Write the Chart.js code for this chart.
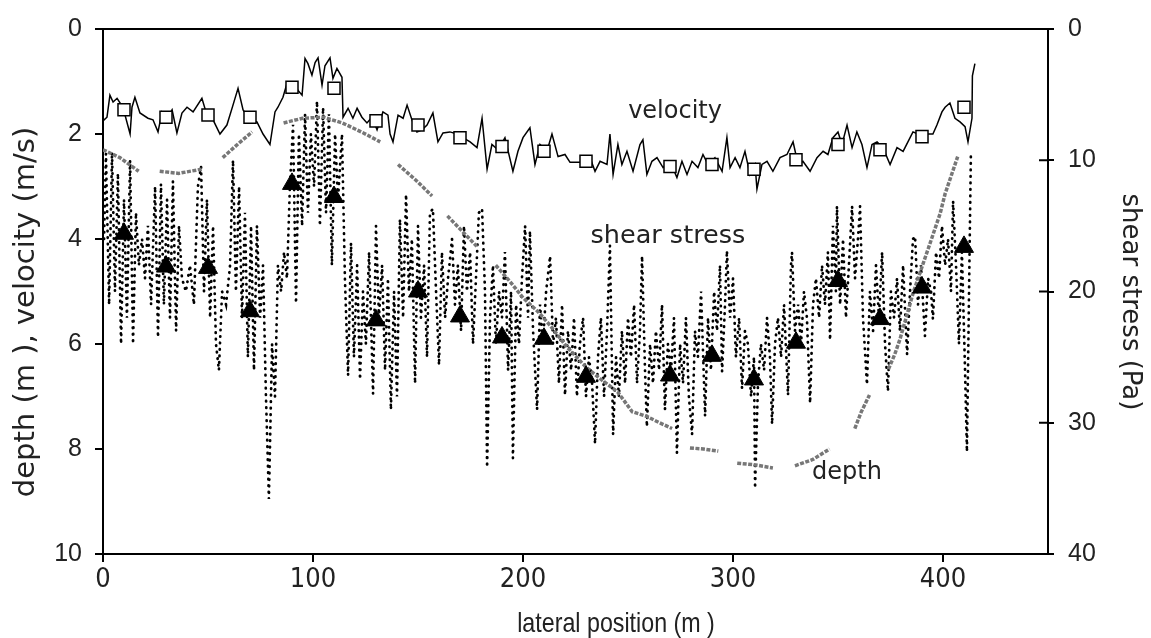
<!DOCTYPE html>
<html><head><meta charset="utf-8">
<script src="https://cdn.jsdelivr.net/npm/chart.js@4/dist/chart.umd.min.js"></script>
<style>html,body{margin:0;padding:0;background:#fff}#wrap{width:1151px;height:638px;position:relative}</style>
</head><body><div id="wrap"><canvas id="c"></canvas></div>
<script>
// lateral position (m) of velocity samples
const velX=[0,1.9,3.3,4.8,6.7,9.5,12.9,13.8,15.2,17.6,
21.4,23.8,26.2,28.1,30.5,32.9,35.2,37.6,40,42.9,
47.1,49.5,52.4,55.7,59,61.9,64.3,66.7,70,73.3,
76.2,79.5,81.9,83.3,85.7,87.6,90.5,92.9,94.8,96.2,
97.6,99.5,101,102.4,104.3,105.7,108.1,109.5,111.4,113.8,
114.3,116.7,119,121,123.3,125.7,128.1,130.5,133.3,135.7,
136.7,138.1,140.5,142.9,144.8,147.1,149.5,151.9,154.3,157.1,
159.5,161.9,165.2,168.6,171.4,174.8,178.1,180.5,182.9,185.2,
188.1,191.4,195.2,197.6,200,203.3,205.7,208.1,211.4,213.8,
216.7,220,222.4,227.1,231.9,234.3,236.7,240,241.4,242.9,
245.2,247.1,249.5,252.4,255.7,257.1,259,261.4,263.8,266.7,
270,273.3,275.7,278.1,280.5,283.3,285.7,288.1,291.4,294.8,
297.1,298.6,301,303.3,305.7,308.1,310.5,311.4,313.8,316.2,
319,322.4,325.7,328.6,331,333.3,336.7,340,342.9,345.2,
347.6,350,351.9,354.3,356.7,359,361.4,363.8,366.2,368.6,
371.4,374.8,378.1,381,383.3,385.7,388.1,390.5,392.9,395.2,
397.1,399.5,401,403.3,405.7,408.1,410.5,411.9,413.8,414,415.2];
// velocity (m/s)
const velY=[1.75,1.68,1.26,1.39,1.32,1.49,2.0,1.49,1.3,1.6,
1.7,1.73,1.96,1.58,1.7,1.54,1.98,1.6,1.49,1.58,
1.32,1.64,1.73,2.0,1.83,1.45,1.13,1.54,1.73,1.77,
2.0,2.2,1.58,1.49,1.3,1.04,1.04,1.17,1.26,0.56,
0.66,0.88,0.64,0.55,1.07,0.7,0.55,0.94,0.75,0.92,
1.68,1.51,1.7,1.51,1.68,1.79,1.68,1.92,1.58,1.64,
2.0,2.15,1.64,1.7,1.45,1.73,1.96,1.92,1.83,1.6,
2.15,1.98,1.96,2.0,2.07,2.15,2.26,1.7,2.67,2.2,
2.3,2.07,2.71,2.33,2.07,1.88,2.58,2.2,2.33,2.0,
2.43,2.39,2.54,2.54,2.45,2.71,2.52,2.58,2.0,2.77,
2.2,2.58,2.33,2.71,2.2,2.11,2.77,2.52,2.45,2.64,
2.52,2.83,2.52,2.77,2.52,2.64,2.39,2.58,2.45,2.71,
2.07,2.64,2.45,2.64,2.33,2.77,2.58,3.05,2.58,2.52,
2.71,2.45,2.39,2.15,2.58,2.52,2.71,2.45,2.33,2.39,
2.07,1.96,2.2,1.83,2.26,1.96,2.2,2.64,2.2,2.15,
2.26,2.58,2.26,2.33,2.15,1.96,2.0,2.07,2.0,2.0,
1.83,1.58,1.49,1.41,1.7,1.77,1.86,2.15,1.7,0.89,0.66];

// lateral position (m) of shear stress samples
const shearX=[0.5,1.4,2.9,4.3,5.7,7.1,8.6,10,11.4,12.9,
14.3,15.7,17.1,18.6,20,21.4,22.9,24.8,26.2,27.6,
29,30.5,31.9,33.3,34.8,36.2,37.6,39.5,41.4,43.3,
45.2,46.7,48.1,49.5,51,52.4,53.8,55.2,56.7,58.6,
60.5,61.9,63.3,64.8,66.2,67.6,69,70.5,71.9,73.3,
74.8,76.2,77.6,79,80.5,81.9,83.3,84.8,86.2,87.6,
89,90.5,91.9,93.3,94.8,96.2,97.6,99,100.5,101.9,
103.3,104.8,106.2,107.6,109,110.5,111.9,113.8,115.2,116.7,
118.1,119.5,121,122.4,123.8,125.2,126.7,128.6,130,131.4,
132.9,134.3,135.7,137.1,138.6,140,141.4,142.9,144.3,145.7,
147.1,148.6,150,151.4,152.9,154.3,155.7,157.1,158.6,160,
161.4,162.9,164.3,166.2,167.6,169,170.5,171.9,173.3,174.8,
176.2,177.6,179,180.5,181.9,182.9,184.3,185.7,187.1,188.6,
190,191.4,192.9,194.3,195.2,196.7,198.1,199.5,201,202.4,
203.3,204.8,206.7,208.1,209.5,211,212.9,214.3,215.7,217.1,
218.6,220,221.4,222.9,224.3,225.7,227.1,228.6,230,231.4,
232.9,234.3,235.7,237.1,238.6,240,241.4,242.9,244.3,245.7,
247.1,248.6,250,251.4,252.9,254.3,255.7,256.7,258.1,259,
260.5,261.9,263.3,264.8,266.2,267.6,269,270.5,271.9,273.3,
274.8,276.2,277.6,279,280.5,281.9,283.3,284.8,286.7,288.1,
289.5,291,292.4,293.8,294.8,296.2,297.1,298.6,300,301.4,
302.9,304.3,305.7,307.1,308.6,310,310.5,311.9,313.3,314.8,
316.2,317.6,318.6,320,321.4,322.9,324.3,326.2,327.6,328.1,
329.5,331,332.4,333.8,335.2,336.7,338.1,339.5,341,342.4,
343.8,345.2,346.2,347.6,349,349.5,351,352.4,353.8,355.2,
356.7,358.1,359.5,360.5,361.9,363.8,365.2,366.7,368.1,369.5,
371,372.4,373.8,375.2,376.7,378.1,379.5,381,382.9,384.3,
385.7,386.7,388.1,389.5,391.4,392.9,394.3,395.2,396.7,398.1,
399.5,401,402.4,403.8,404.8,406.2,407.6,409,410.5,411.4,
412.4,413.3];
// shear stress (Pa)
const shearY=[16,9.5,21,9.4,20,11,24,13,22,10,
24,14,18,16,19,15,21,12,23.5,11.8,
21,13,22,11.6,23,15,19,20,18,21,
12,10.5,20,13,22,15,24,26,20,21,
18,10,20,12,22,14,25,15,26,15,
22,18,28,35.8,24,28,18,20,17,19,
12,7.3,20.9,8,15,6.5,14,8,12,5.5,
15,6,14,6.5,18,8,13,8,19,26.4,
16.3,25,18,26.7,20,24,17,27.8,15,22,
18,26,19,29,20,28,14.5,22,12.6,20,
16,27,15,22,18,25,14,13.7,20,25.6,
17,22,19,16,21,18,23,15,20,17,
24,19,14,13.7,20,33.4,22,18,24,20,
22,17,26,20,32.7,21,24,19,15,22,
15.4,23,29,21,24,20,17.3,24,22,27,
21,27.9,23,26,22,28,24,22,28,25,
27,31.6,25,22,28,23,16.5,30.9,25,28,
23,27,22,25,21,27,23,17.3,26,30.3,
24,27,23,26,21,29,24,26,22,32.3,
24,27,22,28,30.9,23,25,20,29.5,22,
26,20,23,18,26.1,21,16.9,22,19,25,
22,27.4,23,24,28,25,35,27,24,26,
22,25,30.1,24,22,25,21,27.9,18,17,
23,21,24,20,22,28.5,21,19,22,18,
21,17,23.7,15,20,13.5,21,16,22,18,
13.5,19,16,13.5,22,27.1,20,23,18,22,
17,24,27.6,20,22,19,23,18,24.8,20,
16,15.8,21,18,23.4,19,20,22.1,17,19,
15,18,16,20,13.1,18,24,17,26,32.2,
20,9.3];

// depth (m); null = gap in the line
const depthX=[0,8,17,22,27,36,47,52,57,64,71,78,86,95,105,114,124,132,136,140.5,149,156.7,160,164,171,178,182,
187,194,200,207,213,221,230,238,245,252,259,265,271,275,279.5,286,293,297,302,310,319,323,329.5,338,346,350,
358,361,365,369,374,377,379.5,386,393,398.6,401,407];
const depthY=[2.3,2.45,2.71,null,2.71,2.75,2.67,null,2.45,2.2,1.96,null,1.79,1.7,1.68,1.79,1.98,2.15,null,2.58,2.88,3.18,null,3.56,3.85,4.14,null,
4.5,4.82,5.12,5.38,5.65,6.06,6.44,6.7,6.91,7.29,7.38,7.5,7.61,null,7.98,8.0,8.04,null,8.27,8.3,8.36,null,8.32,8.2,8.0,null,
7.61,7.3,6.97,null,6.48,6.2,5.91,5.0,4.18,3.52,3.14,2.43];

// marker positions every 20 m
const markX=[10,30,50,70,90,110,130,150,170,190,210,230,270,290,310,330,350,370,390,410];
const velMark=[1.54,1.68,1.64,1.68,1.11,1.13,1.75,1.83,2.07,2.24,2.33,2.52,2.62,2.58,2.67,2.49,2.2,2.3,2.05,1.49];
const shearMark=[15.6,18.1,18.2,21.5,11.8,12.8,22.2,20.0,21.9,23.5,23.6,26.5,26.4,24.9,26.7,23.9,19.2,22.1,19.7,16.6];

const xTicks=[0,100,200,300,400];
const leftTicks=[0,2,4,6,8,10];
const rightTicks=[0,10,20,30,40];

const labelTexts=['velocity','shear stress','depth'];
const labelX=[272.4,269,354.3];
const labelY=[1.58,3.95,8.46];
const labelSizes=[24,25.5,24];

const titleLeft='depth (m ), velocity (m/s)';
const titleRight='shear stress (Pa)';
const titleBottom='lateral position (m )';

const pts=(xs,ys)=>xs.map((x,i)=>({x:x,y:ys[i]}));

const NARROW="'Liberation Sans Narrow','DejaVu Sans Condensed','Liberation Sans',Arial,sans-serif";
const SANS="'Liberation Sans',Arial,sans-serif";
const DV="'DejaVu Sans',Verdana,sans-serif";

const framePlugin={
  id:'frame',
  afterDraw(chart){
    const ctx=chart.ctx, a=chart.chartArea, y2=chart.scales.y2;
    ctx.save();
    ctx.strokeStyle='#000'; ctx.lineWidth=2;
    ctx.beginPath(); ctx.moveTo(a.left-8,a.top); ctx.lineTo(a.right+6,a.top); ctx.stroke();
    rightTicks.forEach(v=>{ if(v===0||v===40) return; const py=y2.getPixelForValue(v);
      ctx.beginPath(); ctx.moveTo(a.right-9,py); ctx.lineTo(a.right,py); ctx.stroke(); });
    ctx.fillStyle='#222'; ctx.textAlign='center'; ctx.textBaseline='middle';
    const xs=chart.scales.x, ys=chart.scales.y;
    labelTexts.forEach((t,i)=>{ ctx.font=labelSizes[i]+"px "+DV; ctx.fillText(t, xs.getPixelForValue(labelX[i]), ys.getPixelForValue(labelY[i])); });
    // axis titles
    ctx.font="29px "+DV;
    ctx.save(); ctx.translate(26,312); ctx.rotate(-Math.PI/2); ctx.fillText(titleLeft,0,0); ctx.restore();
    ctx.font="26px "+DV;
    ctx.save(); ctx.translate(1130,302); ctx.rotate(Math.PI/2); ctx.fillText(titleRight,0,0); ctx.restore();
    ctx.font="28px "+SANS;
    ctx.save(); ctx.translate(616,624); ctx.scale(0.83,1); ctx.fillText(titleBottom,0,0); ctx.restore();
    ctx.restore();
  }
};

new Chart(document.getElementById('c'),{
  type:'line',
  data:{datasets:[
    {label:'velocity markers',data:pts(markX,velMark),yAxisID:'y',showLine:false,pointStyle:'rect',pointRadius:8.5,pointBackgroundColor:'#fff',pointBorderColor:'#000',pointBorderWidth:1.5,order:0},
    {label:'shear markers',data:pts(markX,shearMark),yAxisID:'y2',showLine:false,pointStyle:'triangle',pointRadius:11,pointBackgroundColor:'#000',pointBorderColor:'#000',pointBorderWidth:1,order:1},
    {label:'velocity',data:pts(velX,velY),yAxisID:'y',borderColor:'#000',borderWidth:1.5,pointRadius:0,tension:0,order:2},
    {label:'depth',data:pts(depthX,depthY),yAxisID:'y',borderColor:'#777',borderWidth:3.5,borderDash:[4,1.5],pointRadius:0,spanGaps:false,tension:0,order:3},
    {label:'shear stress',data:pts(shearX,shearY),yAxisID:'y2',borderColor:'#000',borderWidth:2.7,borderDash:[0.5,6],borderCapStyle:'round',pointRadius:0,tension:0,order:4}
  ]},
  options:{
    responsive:true,maintainAspectRatio:false,animation:false,
    layout:{padding:{top:23,left:0,right:0,bottom:0}},
    plugins:{legend:{display:false},tooltip:{enabled:false}},
    scales:{
      x:{type:'linear',position:'bottom',min:0,max:450,
        afterBuildTicks:s=>{s.ticks=xTicks.map(v=>({value:v}));},
        afterFit:s=>{s.height=84;},
        grid:{drawOnChartArea:false,drawTicks:true,tickLength:8,color:'#000',lineWidth:2},
        border:{display:true,color:'#000',width:2},
        ticks:{color:'#222',font:{family:NARROW,size:27},padding:2,maxRotation:0},
        title:{display:false}
      },
      y:{type:'linear',position:'left',min:0,max:10,reverse:true,
        afterBuildTicks:s=>{s.ticks=leftTicks.map(v=>({value:v}));},
        afterFit:s=>{s.width=103;},
        grid:{drawOnChartArea:false,drawTicks:true,tickLength:8,color:'#000',lineWidth:2},
        border:{display:true,color:'#000',width:2},
        ticks:{color:'#222',font:{family:SANS,size:25},padding:13},
        title:{display:false}
      },
      y2:{type:'linear',position:'right',min:0,max:40,reverse:true,
        afterBuildTicks:s=>{s.ticks=rightTicks.map(v=>({value:v}));},
        afterFit:s=>{s.width=103;},
        grid:{drawOnChartArea:false,drawTicks:true,tickLength:6,color:'#000',lineWidth:2},
        border:{display:true,color:'#000',width:2},
        ticks:{color:'#222',font:{family:SANS,size:25},padding:14},
        title:{display:false}
      }
    }
  },
  plugins:[framePlugin]
});
</script>
</body></html>
